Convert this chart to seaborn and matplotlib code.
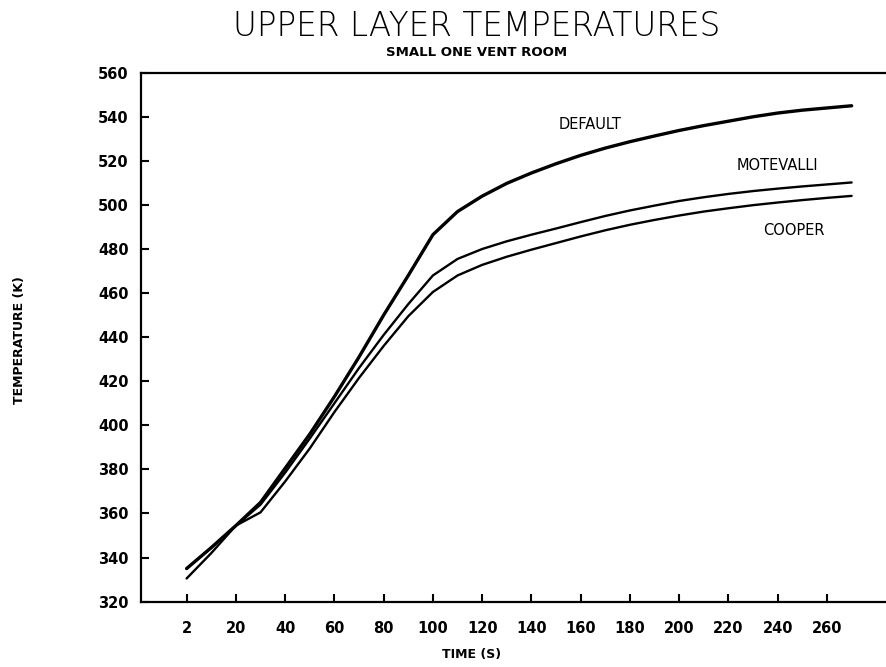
import numpy as np
import pandas as pd
import matplotlib
matplotlib.use('Agg')
import matplotlib.pyplot as plt
import seaborn as sns

# -> DATA
TIME = [0, 10, 20, 30, 40, 50, 60, 70, 80, 90, 100, 110, 120, 130, 140,
        150, 160, 170, 180, 190, 200, 210, 220, 230, 240, 250, 260, 270]

DEFAULT = [335, 344.5, 354.5, 365, 380.5, 396, 413, 431, 450, 468, 486.5, 497,
           504, 509.8, 514.5, 518.7, 522.5, 525.8, 528.7, 531.3, 533.8, 536,
           538, 540, 541.7, 543, 544, 545]
MOTEVALLI = [335, 344.5, 354.5, 364, 378.5, 394, 410, 426, 441, 455, 468, 475.5,
             480, 483.5, 486.5, 489.3, 492.2, 495, 497.5, 499.7, 501.8, 503.5,
             505, 506.3, 507.4, 508.4, 509.3, 510.2]
COOPER = [330.5, 342, 354.5, 360.5, 374.5, 389.5, 406, 421.5, 436, 449.5, 460.5,
          468, 472.8, 476.5, 479.7, 482.7, 485.7, 488.5, 491, 493.2, 495.2, 497,
          498.5, 499.9, 501.1, 502.2, 503.2, 504.1]

X_TICKS = [0, 20, 40, 60, 80, 100, 120, 140, 160, 180, 200, 220, 240, 260]
X_TICK_LABELS = ['2', '20', '40', '60', '80', '100', '120', '140', '160',
                 '180', '200', '220', '240', '260']
Y_TICKS = [320, 340, 360, 380, 400, 420, 440, 460, 480, 500, 520, 540, 560]

# label name, x, y
LABELS = [('DEFAULT', 164, 536.3), ('MOTEVALLI', 240, 518.1), ('COOPER', 246.5, 488.6)]

df = pd.DataFrame({'time': TIME, 'DEFAULT': DEFAULT,
                   'MOTEVALLI': MOTEVALLI, 'COOPER': COOPER})
long_df = df.melt(id_vars='time', var_name='model', value_name='temp')

# -> PLOT
sns.set_style('white')
plt.rcParams['font.family'] = ['DejaVu Sans']
plt.rcParams['text.color'] = 'black'
plt.rcParams['xtick.color'] = 'black'
plt.rcParams['ytick.color'] = 'black'

fig = plt.figure(figsize=(8.87, 6.67), dpi=100)
ax = fig.add_axes([0.159, 0.098, 0.84, 0.793])

widths = {'DEFAULT': 2.4, 'MOTEVALLI': 1.7, 'COOPER': 1.7}
for name, grp in long_df.groupby('model'):
    sns.lineplot(data=grp, x='time', y='temp', color='black',
                 linewidth=widths[name], ax=ax, legend=False)

for text, x, y in LABELS:
    ax.text(x, y, text, ha='center', va='center', fontsize=10.5, color='black')

ax.set_xlim(-18.5, 284)
ax.set_ylim(320, 560)
ax.set_xticks(X_TICKS)
ax.set_xticklabels(X_TICK_LABELS, fontweight='bold', fontsize=10.5)
ax.set_yticks(Y_TICKS)
ax.set_yticklabels([str(v) for v in Y_TICKS], fontweight='bold', fontsize=10.5)
ax.tick_params(axis='x', direction='in', length=6, width=1.5, pad=14, bottom=True)
ax.tick_params(axis='y', direction='in', length=6, width=1.5, pad=9, left=True)
ax.set_xlabel('')
ax.set_ylabel('')

for side in ['left', 'bottom', 'top']:
    ax.spines[side].set_visible(True)
    ax.spines[side].set_color('black')
    ax.spines[side].set_linewidth(1.6)
ax.spines['right'].set_visible(False)

fig.text(0.537, 0.961, 'UPPER LAYER TEMPERATURES', ha='center', va='center',
         fontsize=23.5, fontweight='light', color='black')
fig.text(0.537, 0.922, 'SMALL ONE VENT ROOM', ha='center', va='center',
         fontsize=9.5, fontweight='bold')
fig.text(0.532, 0.018, 'TIME (S)', ha='center', va='center',
         fontsize=9, fontweight='bold')
fig.text(0.0225, 0.49, 'TEMPERATURE (K)', ha='center', va='center',
         rotation=90, fontsize=9, fontweight='bold')

fig.savefig('out.png', dpi=100)
